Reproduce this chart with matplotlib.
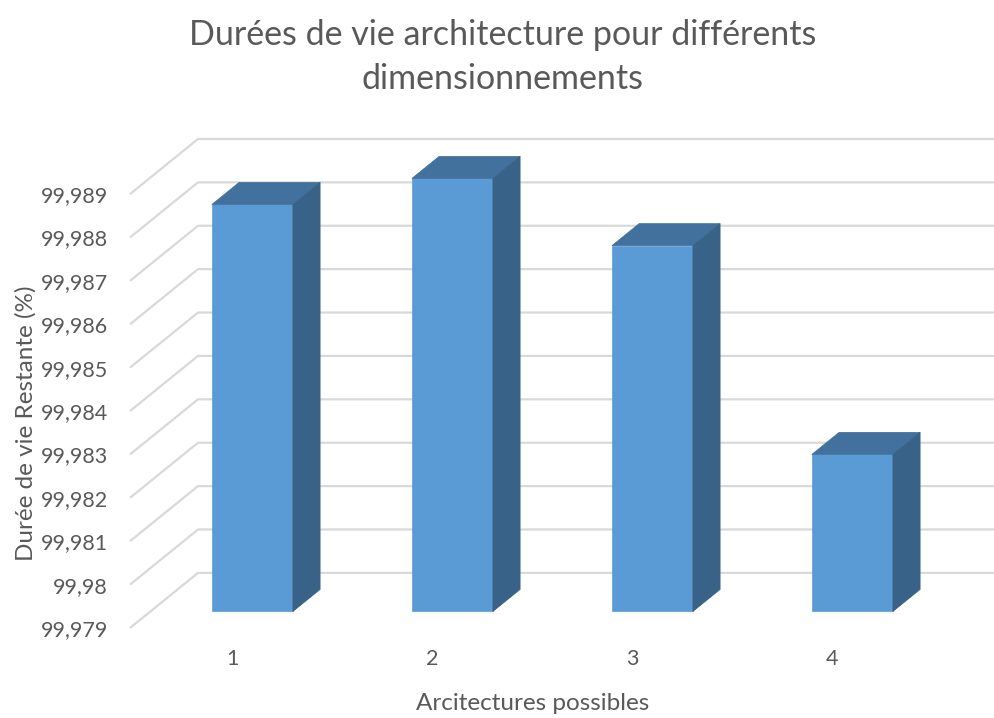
import matplotlib.pyplot as plt
from matplotlib.patches import Polygon

# donnees
architectures = [1, 2, 3, 4]
durees = [99.98838, 99.98898, 99.98743, 99.98262]
graduations = [99.979, 99.980, 99.981, 99.982, 99.983, 99.984,
               99.985, 99.986, 99.987, 99.988, 99.989]

plt.rcParams['font.family'] = ['Lato', 'DejaVu Sans']
GRIS = "#595959"

# projection oblique (effet 3D facon Excel)
DX = 0.34      # decalage de profondeur en unites de categorie
DY = 0.00127   # decalage de profondeur en unites de valeur
BASE = graduations[0]
LARG = 0.405
D0, D1 = 0.3, 0.7


def proj(x, v, d):
    return (x + d * DX, v + d * DY)


fig = plt.figure(figsize=(9.95, 7.18), dpi=100)
W, H = 995, 718
ax = fig.add_axes([130 / W, (H - 628) / H, 865 / W, 499 / H])
ax.set_xlim(0.49, 4.815)
ax.set_ylim(99.979, 99.9905)

# quadrillage : lignes obliques a gauche + mur du fond
xg = 0.49
for t in graduations:
    a = proj(xg, t, 0)
    b = proj(xg, t, 1)
    ax.plot([a[0], b[0], 4.815], [a[1], b[1], b[1]], color="#d9d9d9",
            lw=1.6, zorder=1, clip_on=False, solid_capstyle="butt")

# barres
for c, v in zip(architectures, durees):
    x0 = c - LARG / 2
    x1 = c + LARG / 2
    face = [proj(x0, BASE, D0), proj(x1, BASE, D0), proj(x1, v, D0), proj(x0, v, D0)]
    dessus = [proj(x0, v, D0), proj(x1, v, D0), proj(x1, v, D1), proj(x0, v, D1)]
    cote = [proj(x1, BASE, D0), proj(x1, BASE, D1), proj(x1, v, D1), proj(x1, v, D0)]
    ax.add_patch(Polygon(face, closed=True, facecolor="#5b9bd5", edgecolor="#5b9bd5",
                         lw=0.5, zorder=3))
    ax.add_patch(Polygon(dessus, closed=True, facecolor="#41719c", edgecolor="#41719c",
                         lw=0.5, zorder=3))
    ax.add_patch(Polygon(cote, closed=True, facecolor="#386287", edgecolor="#386287",
                         lw=0.5, zorder=3))

for s in ax.spines.values():
    s.set_visible(False)

ax.set_yticks(graduations)
ax.set_yticklabels([f"{round(t, 3):g}".replace(".", ",") for t in graduations])
ax.set_xticks(architectures)
ax.set_xticklabels([str(a) for a in architectures])
ax.tick_params(axis="y", length=0, pad=16, labelsize=15.5, labelcolor=GRIS)
ax.tick_params(axis="x", length=0, pad=15, labelsize=15.5, labelcolor=GRIS)

ax.set_ylabel("Durée de vie Restante (%)", fontsize=17.5, color=GRIS)
ax.yaxis.set_label_coords(-0.108, 0.41)
ax.set_xlabel("Arcitectures possibles", fontsize=17.5, color=GRIS)
ax.xaxis.set_label_coords(0.466, -0.13)

fig.text(0.505, 1 - 19 / H, "Durées de vie architecture pour différents\ndimensionnements",
         ha="center", va="top", fontsize=24.5, color=GRIS, linespacing=1.45)

fig.savefig("out.png", dpi=100)
